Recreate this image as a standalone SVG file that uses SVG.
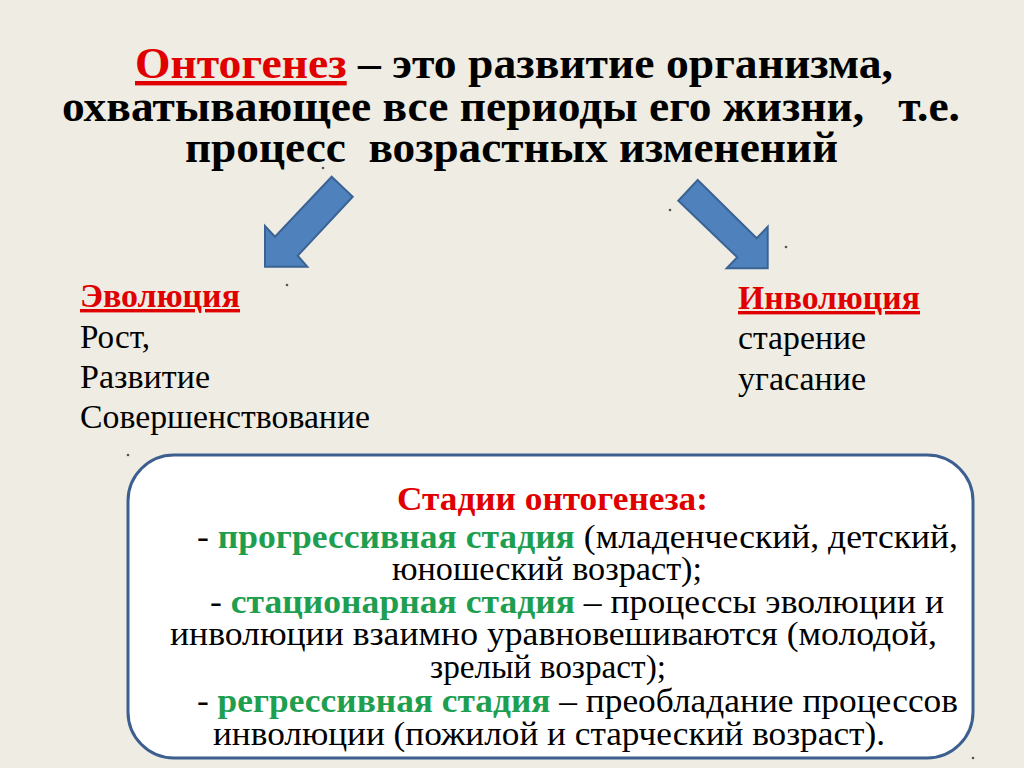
<svg xmlns="http://www.w3.org/2000/svg" width="1024" height="768" viewBox="0 0 1024 768">
<style>
text{font-family:'Liberation Serif','Times New Roman',serif}
.t{font-weight:bold;font-size:44px;fill:#000}
.l{font-size:34px;fill:#000}
.b{font-size:34px;fill:#000}
.red{fill:#e00000;font-weight:bold}
.grn{fill:#1e9e4f;font-weight:bold}
.u{text-decoration:underline}
.arrow{fill:#4f81bd;stroke:#3a6394;stroke-width:2;stroke-linejoin:miter}
.dot{fill:#555}
</style>
<rect width="1024" height="768" fill="#eeece3"/>
<g id="title">
<text class="t" x="135" y="78" textLength="758" lengthAdjust="spacingAndGlyphs"><tspan class="red u">Онтогенез</tspan> – это развитие организма,</text>
<text class="t" x="62" y="121" textLength="898" lengthAdjust="spacingAndGlyphs" xml:space="preserve">охватывающее все периоды его жизни,   т.е.</text>
<text class="t" x="185" y="162" textLength="653" lengthAdjust="spacingAndGlyphs" xml:space="preserve">процесс  возрастных изменений</text>
</g>
<g id="connectors">
<polygon id="arrow-left" class="arrow" points="331.7,176.7 352.7,196.7 297.7,255.7 307.3,266.7 265,266.7 265,226 275,236.7"/>
<polygon id="arrow-right" class="arrow" points="697.7,180 756.7,238.3 767.7,226.7 767.7,268.3 726.7,268.3 737.3,257.3 678.3,200.7"/>
</g>
<g id="evolution">
<text class="l red u" x="80" y="307" textLength="160" lengthAdjust="spacingAndGlyphs">Эволюция</text>
<text class="l" x="80" y="348" textLength="70" lengthAdjust="spacingAndGlyphs">Рост,</text>
<text class="l" x="80" y="388" textLength="130" lengthAdjust="spacingAndGlyphs">Развитие</text>
<text class="l" x="80" y="428" textLength="290" lengthAdjust="spacingAndGlyphs">Совершенствование</text>
</g>
<g id="involution">
<text class="l red u" x="738" y="309" textLength="182" lengthAdjust="spacingAndGlyphs">Инволюция</text>
<text class="l" x="738" y="349" textLength="128" lengthAdjust="spacingAndGlyphs">старение</text>
<text class="l" x="738" y="390" textLength="128" lengthAdjust="spacingAndGlyphs">угасание</text>
</g>
<g id="stages-box">
<rect x="128" y="455" width="845" height="303" rx="46" ry="46" fill="#ffffff" stroke="#3d5f8f" stroke-width="3"/>
<text class="b red" x="397" y="510" textLength="311" lengthAdjust="spacingAndGlyphs">Стадии онтогенеза:</text>
<text class="b" x="197" y="548" textLength="761" lengthAdjust="spacingAndGlyphs">- <tspan class="grn">прогрессивная стадия</tspan> (младенческий, детский,</text>
<text class="b" x="392" y="580" textLength="310" lengthAdjust="spacingAndGlyphs">юношеский возраст);</text>
<text class="b" x="210" y="613" textLength="734" lengthAdjust="spacingAndGlyphs">- <tspan class="grn">стационарная стадия</tspan> – процессы эволюции и</text>
<text class="b" x="170" y="645" textLength="767" lengthAdjust="spacingAndGlyphs">инволюции взаимно уравновешиваются (молодой,</text>
<text class="b" x="430" y="678" textLength="236" lengthAdjust="spacingAndGlyphs">зрелый возраст);</text>
<text class="b" x="197" y="712" textLength="761" lengthAdjust="spacingAndGlyphs">- <tspan class="grn">регрессивная стадия</tspan> – преобладание процессов</text>
<text class="b" x="213" y="745" textLength="672" lengthAdjust="spacingAndGlyphs">инволюции (пожилой и старческий возраст).</text>
</g>
<g id="dots">
<circle class="dot" cx="323" cy="168" r="1.3"/>
<circle class="dot" cx="670" cy="210" r="1.3"/>
<circle class="dot" cx="786" cy="247" r="1.3"/>
<circle class="dot" cx="287" cy="285" r="1.3"/>
<circle class="dot" cx="128" cy="455" r="1.3"/>
<circle class="dot" cx="973" cy="758" r="1.3"/>
</g>
</svg>
